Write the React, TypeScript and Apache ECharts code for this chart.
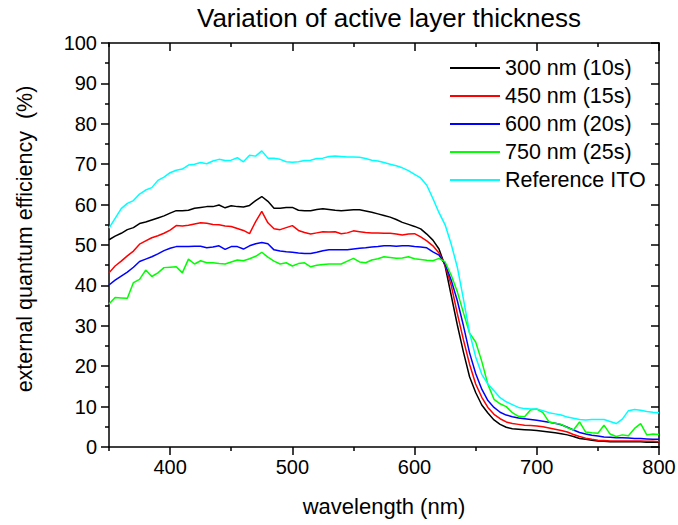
import React, { useEffect, useRef } from "react";
import * as echarts from "echarts";

const wavelengths: number[] = [];
for (let w = 350; w <= 800; w += 5) wavelengths.push(w);

const seriesNames = ["300 nm (10s)", "450 nm (15s)", "600 nm (20s)", "750 nm (25s)", "Reference ITO"];
const seriesColors = ["#000000", "#ff0000", "#0000ff", "#00ff00", "#00ffff"];

const eqe300 = [
  51.3, 52.2, 52.9, 53.8, 54.3, 55.3, 55.7, 56.2, 56.7, 57.2,
  57.9, 58.5, 58.5, 58.6, 59.1, 59.3, 59.5, 59.5, 59.9, 59.2,
  59.7, 59.5, 59.4, 59.8, 61.0, 62.0, 60.8, 59.1, 59.1, 59.3,
  59.3, 58.6, 58.5, 58.5, 58.8, 59.0, 58.8, 58.6, 58.5, 58.6,
  58.7, 58.7, 58.4, 58.1, 57.7, 57.3, 56.9, 56.3, 55.6, 55.1,
  54.6, 54.0, 52.7, 51.2, 49.0, 44.8, 37.5, 30.2, 23.5, 17.4,
  13.5, 10.4, 8.4, 6.7, 5.6, 4.9, 4.5, 4.4, 4.3, 4.2,
  4.1, 3.9, 3.7, 3.5, 3.3, 3.0, 2.6, 2.1, 1.9, 1.7,
  1.5, 1.4, 1.3, 1.3, 1.3, 1.3, 1.3, 1.3, 1.2, 1.2, 1.2,
];
const eqe450 = [
  43.1, 44.8, 46.0, 47.3, 48.5, 50.2, 51.0, 51.8, 52.3, 52.9,
  53.7, 54.8, 54.7, 54.9, 55.2, 55.5, 55.4, 55.1, 55.0, 54.7,
  54.6, 54.1, 53.6, 52.8, 55.8, 58.3, 55.5, 54.0, 53.8, 54.3,
  54.8, 53.6, 53.1, 52.7, 53.0, 53.3, 53.2, 53.3, 52.8, 53.0,
  53.5, 53.3, 53.1, 53.0, 53.0, 52.9, 52.9, 52.7, 52.5, 52.7,
  52.8, 52.0, 51.0, 49.8, 48.0, 45.0, 40.0, 33.0, 26.5, 20.5,
  15.6, 12.3, 9.8, 8.1, 7.0, 6.2, 5.8, 5.6, 5.4, 5.3,
  5.2, 5.0, 4.7, 4.4, 4.1, 3.7, 3.1, 2.6, 2.2, 1.9,
  1.7, 1.6, 1.5, 1.5, 1.5, 1.5, 1.5, 1.5, 1.4, 1.4, 1.3,
];
const eqe600 = [
  40.1, 41.3, 42.3, 43.3, 44.5, 45.9, 46.5, 47.1, 47.8, 48.6,
  49.2, 49.6, 49.6, 49.6, 49.7, 49.7, 49.3, 49.5, 49.8, 48.9,
  49.6, 49.6, 49.0, 49.8, 50.3, 50.6, 50.3, 48.8, 48.5, 48.3,
  48.2, 48.0, 47.9, 47.9, 48.2, 48.6, 48.8, 48.8, 48.8, 48.8,
  49.0, 49.2, 49.3, 49.5, 49.6, 49.8, 49.8, 49.7, 49.8, 49.8,
  49.6, 49.5, 49.3, 48.3, 47.5, 45.3, 41.3, 36.2, 30.0, 23.3,
  18.2, 14.3, 11.5, 9.8, 8.6, 7.9, 7.5, 7.2, 7.0, 6.8,
  6.6, 6.4, 6.1, 5.9, 5.5, 4.9, 4.2, 3.6, 3.2, 2.9,
  2.7, 2.5, 2.4, 2.3, 2.3, 2.2, 2.1, 2.1, 2.0, 1.9, 1.9,
];
const eqe750 = [
  35.4, 37.0, 36.9, 36.8, 40.7, 41.5, 43.8, 42.2, 43.1, 44.4,
  44.5, 44.6, 43.1, 46.5, 45.3, 46.1, 45.6, 45.6, 45.4, 45.3,
  45.8, 46.3, 46.1, 46.6, 47.2, 48.2, 47.0, 46.0, 45.3, 45.6,
  44.8, 45.4, 45.6, 44.6, 45.0, 45.2, 45.3, 45.3, 45.3, 46.0,
  46.7, 45.8, 45.6, 46.3, 46.6, 47.1, 46.9, 46.7, 46.8, 47.1,
  46.6, 46.4, 46.2, 46.1, 46.7, 45.8, 42.5, 38.4, 33.2, 28.2,
  26.0, 21.2, 15.5, 11.8, 10.7, 10.0, 8.5, 7.6, 7.5, 9.2,
  9.4, 8.5, 6.2, 5.9, 5.6, 4.8, 4.2, 6.2, 3.7, 3.5,
  3.4, 5.4, 3.2, 2.6, 3.0, 2.8, 4.6, 5.8, 3.0, 3.2, 3.1,
];
const eqeITO = [
  54.2, 56.6, 59.0, 60.3, 61.0, 62.6, 63.6, 64.2, 66.0, 66.8,
  67.9, 68.5, 68.8, 69.8, 70.0, 70.4, 70.1, 70.8, 71.2, 70.9,
  71.0, 71.6, 70.6, 72.2, 72.0, 73.3, 71.5, 71.5, 71.2, 70.6,
  70.5, 70.6, 70.9, 71.0, 71.4, 71.5, 71.9, 72.0, 71.9, 71.8,
  71.8, 71.7, 71.4, 71.0, 70.8, 70.4, 70.0, 69.6, 69.1, 68.4,
  67.5, 66.6, 64.8, 61.5, 58.0, 55.0, 50.2, 44.5, 36.6, 28.3,
  22.3, 18.0, 15.6, 13.9, 12.2, 11.2, 10.5, 9.8, 9.5, 9.4,
  9.4, 9.0, 8.5, 8.2, 7.9, 7.4, 7.1, 6.8, 6.7, 6.8,
  6.8, 6.8, 6.3, 5.8, 6.9, 9.0, 9.3, 9.1, 8.8, 8.6, 8.5,
];
const allValues = [eqe300, eqe450, eqe600, eqe750, eqeITO];

const majorXTicks = [400, 500, 600, 700, 800];
const minorXTicks = [350, 450, 550, 650, 750];

const FONT = "Liberation Sans, Arial, sans-serif";

export default function App() {
  const ref = useRef<HTMLDivElement>(null);
  useEffect(() => {
    if (!ref.current) return;
    const chart = echarts.init(ref.current, null, { renderer: "svg" });
    const axisLine = { show: true, lineStyle: { color: "#000", width: 1.5 } };
    const option: any = {
      animation: false,
      backgroundColor: "#fff",
      title: {
        text: "Variation of active layer thickness",
        left: 192,
        top: 0,
        textStyle: { fontFamily: FONT, fontSize: 26, fontWeight: "normal", color: "#000" },
      },
      grid: { left: 109, right: 19, top: 43, bottom: 78, containLabel: false, outerBoundsMode: "none" },
      legend: {
        left: 444,
        top: 52,
        orient: "vertical",
        itemWidth: 50,
        itemHeight: 14,
        itemGap: 6,
        data: seriesNames,
        itemStyle: { opacity: 0 },
        textStyle: { fontFamily: FONT, fontSize: 21.5, color: "#000", lineHeight: 21 },
      },
      xAxis: [
        {
          type: "value", position: "bottom", min: 350, max: 800,
          axisLine,
          splitLine: { show: false },
          axisTick: { show: true, inside: false, length: 8, customValues: majorXTicks, lineStyle: { color: "#000", width: 1.5 } },
          axisLabel: { customValues: majorXTicks, fontFamily: FONT, fontSize: 20, color: "#000", margin: 10 },
          name: "wavelength (nm)", nameLocation: "middle", nameGap: 48,
          nameTextStyle: { fontFamily: FONT, fontSize: 22, color: "#000" },
        },
        {
          type: "value", position: "bottom", min: 350, max: 800,
          axisLine: { show: false }, splitLine: { show: false }, axisLabel: { show: false },
          axisTick: { show: true, inside: false, length: 4, customValues: minorXTicks, lineStyle: { color: "#000", width: 1.5 } },
        },
        {
          type: "value", position: "top", min: 350, max: 800,
          axisLine, splitLine: { show: false }, axisLabel: { show: false },
          axisTick: { show: true, inside: true, length: 8, customValues: majorXTicks, lineStyle: { color: "#000", width: 1.5 } },
        },
        {
          type: "value", position: "top", min: 350, max: 800,
          axisLine: { show: false }, splitLine: { show: false }, axisLabel: { show: false },
          axisTick: { show: true, inside: true, length: 4, customValues: minorXTicks, lineStyle: { color: "#000", width: 1.5 } },
        },
      ],
      yAxis: [
        {
          type: "value", position: "left", min: 0, max: 100, interval: 10,
          axisLine, splitLine: { show: false },
          axisTick: { show: true, inside: false, length: 8, lineStyle: { color: "#000", width: 1.5 } },
          minorTick: { show: true, splitNumber: 2, length: 4, lineStyle: { color: "#000", width: 1.5 } },
          axisLabel: { fontFamily: FONT, fontSize: 20, color: "#000", margin: 12 },
          name: "external quantum efficiency  (%)", nameLocation: "middle", nameGap: 73,
          nameTextStyle: { fontFamily: FONT, fontSize: 21.5, color: "#000", padding: [0, 0, 0, 12] },
        },
        {
          type: "value", position: "right", min: 0, max: 100, interval: 10,
          axisLine, splitLine: { show: false }, axisLabel: { show: false },
          axisTick: { show: true, inside: true, length: 8, lineStyle: { color: "#000", width: 1.5 } },
          minorTick: { show: true, splitNumber: 2, length: 4, lineStyle: { color: "#000", width: 1.5 } },
        },
      ],
      series: seriesNames.map((name, i) => ({
        name,
        type: "line",
        xAxisIndex: 0,
        yAxisIndex: 0,
        symbol: "none",
        lineStyle: { color: seriesColors[i], width: 1.5 },
        itemStyle: { color: seriesColors[i] },
        data: wavelengths.map((w, j) => [w, allValues[i][j]]),
      })),
    };
    chart.setOption(option);
    return () => chart.dispose();
  }, []);
  return <div ref={ref} style={{ position: "fixed", left: 0, top: 0, width: 678, height: 525 }} />;
}
